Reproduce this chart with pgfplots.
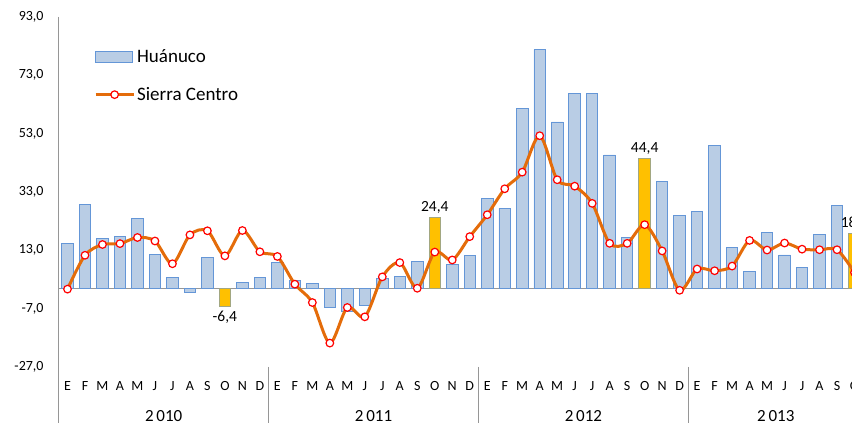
\documentclass[border=0pt]{standalone}
\usepackage{fontspec}
\setmainfont{Carlito}
\usepackage{pgfplots}
\pgfplotsset{compat=1.18}
\definecolor{barfill}{RGB}{185,205,229}
\definecolor{baredge}{RGB}{100,150,215}
\definecolor{hl}{RGB}{255,192,0}
\definecolor{sierra}{RGB}{228,108,10}
\definecolor{axgray}{RGB}{150,150,150}
\pgfplotsset{
  barlegend/.style={legend image code/.code={\draw[##1,/tikz/.cd] (0pt,-5.5pt) rectangle (37pt,5.5pt);}},
  linelegend/.style={legend image code/.code={\draw[mark repeat=2,mark phase=2,##1] plot coordinates {(0pt,0pt) (19pt,0pt) (38pt,0pt)};}},
}

\begin{document}
\begin{tikzpicture}
\begin{axis}[
  at={(58.76pt,56pt)}, anchor=south west,
  scale only axis,
  width=804.5pt, height=350pt,
  xmin=-0.5, xmax=45.5,
  ymin=-27, ymax=93,
  clip=false,
  axis x line*=bottom, axis y line*=left,
  axis line style={draw=none},
  major tick length=0pt,
  ytick={-27,-7,13,33,53,73,93},
  yticklabel style={anchor=east, inner sep=0pt, xshift=-15pt, font=\fontsize{14}{16}\selectfont},
  y tick label style={/pgf/number format/.cd, fixed, fixed zerofill, precision=1, use comma, assume math mode=true},
  xtick={0,...,45},
  xticklabels={E,F,M,A,M,J,J,A,S,O,N,D,E,F,M,A,M,J,J,A,S,O,N,D,E,F,M,A,M,J,J,A,S,O,N,D,E,F,M,A,M,J,J,A,S,O},
  xticklabel style={anchor=base, yshift=-24pt, font=\fontsize{14}{16}\selectfont},
  legend style={at={(0.04,0.918)}, anchor=north west, draw=none, fill=none,
    font=\fontsize{19}{22}\selectfont, row sep=19pt},
  legend cell align=left,
]
% axis lines and year separators
\draw[axgray, line width=1pt] (axis cs:-0.5,93) -- (axis cs:-0.5,-46.5);
\draw[axgray, line width=1pt] (axis cs:-0.5,0) -- (axis cs:45.5,0);
\draw[axgray, line width=1pt] (axis cs:11.5,-27) -- (axis cs:11.5,-46.5);
\draw[axgray, line width=1pt] (axis cs:23.5,-27) -- (axis cs:23.5,-46.5);
\draw[axgray, line width=1pt] (axis cs:35.5,-27) -- (axis cs:35.5,-46.5);

% Huanuco
\addplot[ybar, bar width=11.5pt, bar shift=0pt, fill=barfill, draw=baredge, line width=0.9pt, barlegend]
coordinates {
(0,15.3)(1,28.7)(2,17.1)(3,17.8)(4,24.0)(5,11.7)(6,3.6)(7,-1.6)(8,10.7)
(10,2.0)(11,3.8)(12,8.7)(13,2.7)(14,1.6)(15,-6.6)(16,-8.1)(17,-5.8)(18,3.3)(19,3.9)(20,9.2)
(22,8.0)(23,11.2)(24,30.8)(25,27.5)(26,61.6)(27,81.8)(28,57.0)(29,66.9)(30,66.9)(31,45.7)(32,17.5)
(34,36.5)(35,24.8)(36,26.2)(37,48.8)(38,14.1)(39,5.9)(40,19.1)(41,11.4)(42,7.2)(43,18.3)(44,28.4)
};
\addlegendentry{Huánuco}

% highlighted months (October)
\addplot[ybar, forget plot, bar width=11.5pt, bar shift=0pt, fill=hl, draw=baredge!60!hl, line width=0.9pt,
  nodes near coords,
  nodes near coords style={font=\fontsize{15.5}{18}\selectfont, text=black,
    /pgf/number format/.cd, fixed, fixed zerofill, precision=1, use comma, assume math mode=true}]
coordinates {(9,-6.4)(21,24.4)(33,44.4)(45,18.9)};

% Sierra Centro
\addplot[color=sierra, line width=3pt, smooth, mark=*, mark size=3.8pt,
  mark options={fill=white, draw=red, line width=1.2pt, solid}, linelegend]
coordinates {
(0,-0.3)(1,11.3)(2,15.0)(3,15.3)(4,17.4)(5,16.2)(6,8.4)(7,18.3)(8,19.7)(9,11.1)(10,19.8)(11,12.5)
(12,10.9)(13,1.4)(14,-4.9)(15,-18.8)(16,-6.6)(17,-9.8)(18,3.9)(19,8.8)(20,0.0)(21,12.4)(22,9.7)(23,17.7)
(24,25.2)(25,34.1)(26,39.8)(27,52.3)(28,37.2)(29,35.0)(30,29.1)(31,15.4)(32,15.4)(33,21.8)(34,12.8)(35,-0.7)
(36,6.6)(37,6.0)(38,7.6)(39,16.4)(40,13.1)(41,15.5)(42,13.4)(43,13.2)(44,13.2)(45,5.4)
};
\addlegendentry{Sierra Centro}

% year labels
\node[anchor=base, yshift=-54.7pt, font=\fontsize{17}{19}\selectfont] at (axis cs:5.5,-27) {2\,010};
\node[anchor=base, yshift=-54.7pt, font=\fontsize{17}{19}\selectfont] at (axis cs:17.5,-27) {2\,011};
\node[anchor=base, yshift=-54.7pt, font=\fontsize{17}{19}\selectfont] at (axis cs:29.5,-27) {2\,012};
\node[anchor=base, yshift=-54.7pt, font=\fontsize{17}{19}\selectfont] at (axis cs:40.5,-27) {2\,013};
\end{axis}
\pgfresetboundingbox
\useasboundingbox (0,0) rectangle (852pt,423pt);
\end{tikzpicture}
\end{document}
